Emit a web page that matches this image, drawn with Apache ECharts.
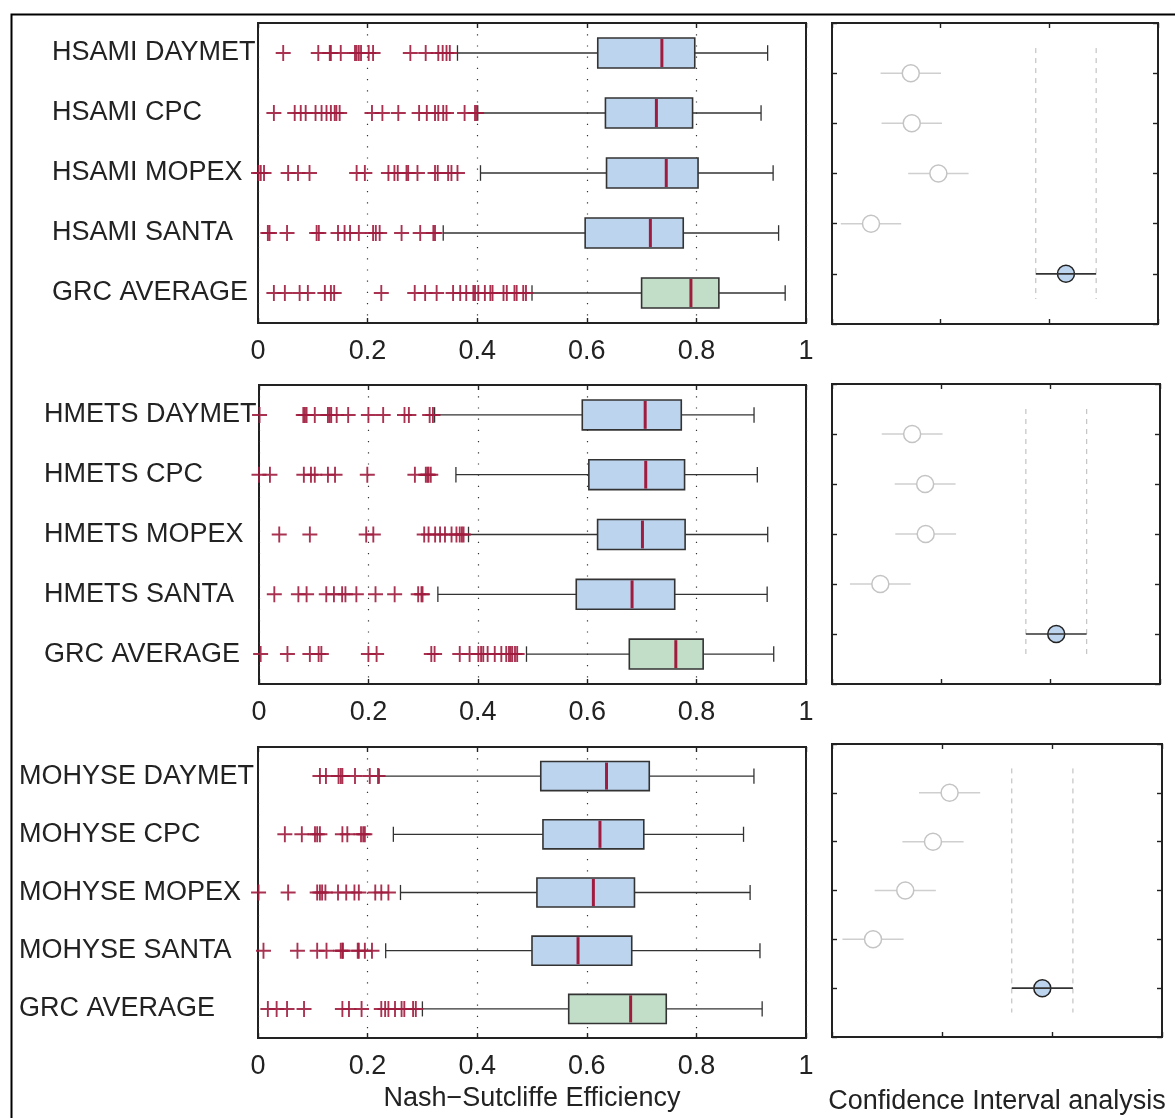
<!DOCTYPE html>
<html>
<head>
<meta charset="utf-8">
<title>Nash–Sutcliffe Efficiency by model and forcing</title>
<script src="https://cdn.jsdelivr.net/npm/echarts@6/dist/echarts.min.js"></script>
<style>
  html, body { margin: 0; padding: 0; background: #fff; }
  #chart { width: 1175px; height: 1118px; }
</style>
</head>
<body>
<div id="chart"></div>
<script>
// ---- Category labels (top to bottom) ----
const hsamiLabels  = ['HSAMI DAYMET', 'HSAMI CPC', 'HSAMI MOPEX', 'HSAMI SANTA', 'GRC AVERAGE'];
const hmetsLabels  = ['HMETS DAYMET', 'HMETS CPC', 'HMETS MOPEX', 'HMETS SANTA', 'GRC AVERAGE'];
const mohyseLabels = ['MOHYSE DAYMET', 'MOHYSE CPC', 'MOHYSE MOPEX', 'MOHYSE SANTA', 'GRC AVERAGE'];

// ---- Box statistics per row: [lower whisker, Q1, median, Q3, upper whisker] ----
const hsamiBox = [
  [0.364, 0.620, 0.737, 0.797, 0.930],
  [0.401, 0.634, 0.727, 0.793, 0.918],
  [0.406, 0.636, 0.745, 0.803, 0.940],
  [0.338, 0.597, 0.716, 0.776, 0.950],
  [0.500, 0.700, 0.790, 0.841, 0.962]
];
const hmetsBox = [
  [0.321, 0.591, 0.706, 0.772, 0.905],
  [0.360, 0.603, 0.707, 0.778, 0.911],
  [0.383, 0.619, 0.701, 0.779, 0.930],
  [0.327, 0.580, 0.682, 0.760, 0.929],
  [0.489, 0.677, 0.762, 0.812, 0.941]
];
const mohyseBox = [
  [0.221, 0.516, 0.636, 0.714, 0.905],
  [0.247, 0.520, 0.624, 0.704, 0.886],
  [0.260, 0.509, 0.612, 0.687, 0.898],
  [0.233, 0.500, 0.584, 0.682, 0.916],
  [0.300, 0.567, 0.680, 0.745, 0.920]
];

// ---- Outlying catchments per row ----
const hsamiOutliers = [
  [0.046, 0.110, 0.131, 0.133, 0.151, 0.177, 0.180, 0.184, 0.188, 0.202, 0.210, 0.278, 0.306, 0.329, 0.337, 0.344, 0.350],
  [0.029, 0.067, 0.078, 0.087, 0.105, 0.116, 0.125, 0.133, 0.140, 0.143, 0.149, 0.208, 0.227, 0.256, 0.294, 0.308, 0.323, 0.329, 0.338, 0.344, 0.377, 0.396, 0.399],
  [0.001, 0.005, 0.011, 0.055, 0.073, 0.094, 0.180, 0.195, 0.238, 0.249, 0.255, 0.271, 0.274, 0.291, 0.323, 0.328, 0.347, 0.353, 0.364],
  [0.018, 0.021, 0.053, 0.107, 0.111, 0.146, 0.158, 0.168, 0.184, 0.210, 0.215, 0.222, 0.262, 0.296, 0.320, 0.323],
  [0.029, 0.049, 0.076, 0.091, 0.122, 0.133, 0.139, 0.225, 0.286, 0.305, 0.326, 0.356, 0.369, 0.380, 0.393, 0.396, 0.402, 0.414, 0.424, 0.428, 0.448, 0.454, 0.468, 0.472, 0.484, 0.489]
];
const hmetsOutliers = [
  [0.001, 0.081, 0.084, 0.087, 0.102, 0.126, 0.129, 0.132, 0.142, 0.163, 0.200, 0.227, 0.266, 0.274, 0.312, 0.318],
  [0.000, 0.020, 0.082, 0.095, 0.102, 0.126, 0.139, 0.198, 0.285, 0.305, 0.308, 0.310, 0.314],
  [0.037, 0.093, 0.196, 0.209, 0.302, 0.310, 0.322, 0.331, 0.340, 0.352, 0.361, 0.367, 0.371, 0.374],
  [0.028, 0.072, 0.087, 0.123, 0.137, 0.152, 0.158, 0.178, 0.213, 0.248, 0.291, 0.297, 0.299],
  [0.003, 0.052, 0.093, 0.109, 0.114, 0.200, 0.215, 0.315, 0.321, 0.367, 0.385, 0.401, 0.406, 0.410, 0.418, 0.431, 0.443, 0.452, 0.457, 0.460, 0.463, 0.468, 0.472]
];
const mohyseOutliers = [
  [0.113, 0.124, 0.147, 0.151, 0.154, 0.177, 0.204, 0.219],
  [0.049, 0.080, 0.104, 0.108, 0.113, 0.154, 0.163, 0.188, 0.192, 0.195],
  [0.001, 0.055, 0.108, 0.113, 0.117, 0.123, 0.146, 0.161, 0.176, 0.184, 0.214, 0.225, 0.238],
  [0.010, 0.072, 0.108, 0.125, 0.151, 0.154, 0.155, 0.182, 0.184, 0.195, 0.208],
  [0.018, 0.034, 0.053, 0.084, 0.154, 0.166, 0.189, 0.225, 0.232, 0.238, 0.250, 0.262, 0.267, 0.283, 0.288]
];

// ---- Confidence interval analysis: interval centres (rows 1..5) and half width ----
const hsamiCiCenter  = [0.725, 0.734, 0.979, 0.359, 2.153];
const hmetsCiCenter  = [0.733, 0.852, 0.857, 0.442, 2.051];
const mohyseCiCenter = [1.069, 0.918, 0.666, 0.373, 1.912];
const ciHalfWidth = 0.278;

// ---- Tick labels of the efficiency axis ----
const effTicks = [0, 0.2, 0.4, 0.6, 0.8, 1];
const effTickLabels = ['0', '0.2', '0.4', '0.6', '0.8', '1'];

const FONT = '"Liberation Sans", Arial, Helvetica, sans-serif';
const TEXT = '#222';
const AXIS = '#222';
const BLUE_FILL = '#bdd4ee';
const GREEN_FILL = '#c2dec8';
const MEDIAN = '#a01c3e';
const OUTLIER = '#a01c3e';
const PLUS = 'path://M7,0h2v7h7v2h-7v7h-2v-7h-7v-2h7z';

const panels = [
  { labels: hsamiLabels,  box: hsamiBox,  outliers: hsamiOutliers,  ci: hsamiCiCenter,  labelMargin: 206,
    grid: { left: 258, top: 23, width: 548, height: 300 }, ciGrid: { left: 832, top: 23, width: 326, height: 301 } },
  { labels: hmetsLabels,  box: hmetsBox,  outliers: hmetsOutliers,  ci: hmetsCiCenter,  labelMargin: 215,
    grid: { left: 259, top: 385, width: 547, height: 299 }, ciGrid: { left: 832, top: 384, width: 328, height: 300 } },
  { labels: mohyseLabels, box: mohyseBox, outliers: mohyseOutliers, ci: mohyseCiCenter, labelMargin: 239,
    grid: { left: 258, top: 747, width: 548, height: 291 }, ciGrid: { left: 832, top: 744, width: 330, height: 293 } }
];

function renderBox(params, api) {
  const cat = api.value(0);
  const pLo = api.coord([api.value(1), cat]);
  const pQ1 = api.coord([api.value(2), cat]);
  const pMed = api.coord([api.value(3), cat]);
  const pQ3 = api.coord([api.value(4), cat]);
  const pHi = api.coord([api.value(5), cat]);
  const band = api.size([0, 1])[1];
  const hb = band * 0.25;
  const hc = band * 0.13;
  const y = pMed[1];
  const isAverage = params.dataIndex === 4;
  const whisker = { stroke: '#333', lineWidth: 1.3 };
  return {
    type: 'group',
    children: [
      { type: 'line', shape: { x1: pLo[0], y1: y, x2: pQ1[0], y2: y }, style: whisker },
      { type: 'line', shape: { x1: pQ3[0], y1: y, x2: pHi[0], y2: y }, style: whisker },
      { type: 'line', shape: { x1: pLo[0], y1: y - hc, x2: pLo[0], y2: y + hc }, style: whisker },
      { type: 'line', shape: { x1: pHi[0], y1: y - hc, x2: pHi[0], y2: y + hc }, style: whisker },
      { type: 'rect', shape: { x: pQ1[0], y: y - hb, width: pQ3[0] - pQ1[0], height: 2 * hb },
        style: { fill: isAverage ? GREEN_FILL : BLUE_FILL, stroke: '#333', lineWidth: 1.6 } },
      { type: 'line', shape: { x1: pMed[0], y1: y - hb + 1, x2: pMed[0], y2: y + hb - 1 },
        style: { stroke: MEDIAN, lineWidth: 3 } }
    ]
  };
}

function makeCiRenderer(halfWidth) {
  return function (params, api) {
    const row = api.value(0);
    const c = api.value(1);
    const pc = api.coord([c, row]);
    const pl = api.coord([c - halfWidth, row]);
    const pr = api.coord([c + halfWidth, row]);
    const r = 8.5;
    const isReference = params.dataIndex === 4;
    if (!isReference) {
      return {
        type: 'group',
        children: [
          { type: 'line', shape: { x1: pl[0], y1: pc[1], x2: pr[0], y2: pc[1] }, style: { stroke: '#cfcfcf', lineWidth: 1.5 } },
          { type: 'circle', shape: { cx: pc[0], cy: pc[1], r: r }, style: { fill: '#fff', stroke: '#c4c4c4', lineWidth: 1.5 } }
        ]
      };
    }
    const top = api.coord([c, 0.5])[1];
    const bottom = api.coord([c, 5.5])[1];
    const dash = { stroke: '#c4c4c4', lineWidth: 1.2, lineDash: [5, 5] };
    return {
      type: 'group',
      children: [
        { type: 'line', shape: { x1: pl[0], y1: top, x2: pl[0], y2: bottom }, style: dash },
        { type: 'line', shape: { x1: pr[0], y1: top, x2: pr[0], y2: bottom }, style: dash },
        { type: 'circle', shape: { cx: pc[0], cy: pc[1], r: r }, style: { fill: BLUE_FILL, stroke: '#222', lineWidth: 1.5 } },
        { type: 'line', shape: { x1: pl[0], y1: pc[1], x2: pr[0], y2: pc[1] }, style: { stroke: '#333', lineWidth: 1.6 } }
      ]
    };
  };
}

// fresh tick settings for every axis (inward ticks like the box frames)
function inwardTicks() {
  return { show: true, inside: true, length: 5, lineStyle: { color: AXIS, width: 1.4 } };
}
function hiddenLine() {
  return { show: false, onZero: false };
}

const grids = [], xAxes = [], yAxes = [], series = [];

panels.forEach((p, i) => {
  const last = i === panels.length - 1;
  // efficiency boxplot grid
  const g = grids.length;
  grids.push(Object.assign({ show: true, borderColor: AXIS, borderWidth: 2, containLabel: false }, p.grid));
  const xBottom = xAxes.length;
  xAxes.push({
    type: 'value', gridIndex: g, min: 0, max: 1, interval: 0.2, position: 'bottom',
    axisLine: hiddenLine(), axisTick: inwardTicks(),
    axisLabel: {
      margin: 15, fontSize: 27, color: TEXT, fontFamily: FONT,
      formatter: v => effTickLabels[effTicks.findIndex(t => Math.abs(t - v) < 1e-6)]
    },
    splitLine: { show: true, lineStyle: { color: '#333', width: 1.2, type: [1.2, 10] } },
    name: last ? 'Nash\u2212Sutcliffe Efficiency' : '',
    nameLocation: 'middle', nameGap: 47,
    nameTextStyle: { fontSize: 27, color: TEXT, fontFamily: FONT }
  });
  xAxes.push({
    type: 'value', gridIndex: g, min: 0, max: 1, interval: 0.2, position: 'top',
    axisLine: hiddenLine(), axisTick: inwardTicks(), axisLabel: { show: false }, splitLine: { show: false }
  });
  const yCat = yAxes.length;
  yAxes.push({
    type: 'category', gridIndex: g, data: p.labels, inverse: true,
    axisLine: hiddenLine(), axisTick: { show: false },
    axisLabel: { interval: 0, align: 'left', margin: p.labelMargin, fontSize: 27, color: TEXT, fontFamily: FONT },
    splitLine: { show: false }
  });
  series.push({
    type: 'custom', xAxisIndex: xBottom, yAxisIndex: yCat, renderItem: renderBox, z: 3,
    encode: { x: [1, 2, 3, 4, 5], y: 0 },
    data: p.box.map((s, r) => [r].concat(s))
  });
  const pts = [];
  p.outliers.forEach((row, r) => row.forEach(v => pts.push([v, r])));
  series.push({
    type: 'scatter', xAxisIndex: xBottom, yAxisIndex: yCat, clip: false, z: 4,
    symbol: PLUS, symbolSize: [15, 16],
    itemStyle: { color: OUTLIER, opacity: 0.9 },
    data: pts
  });

  // confidence interval grid
  const cg = grids.length;
  grids.push(Object.assign({ show: true, borderColor: AXIS, borderWidth: 2, containLabel: false }, p.ciGrid));
  const cx = xAxes.length;
  xAxes.push({
    type: 'value', gridIndex: cg, min: 0, max: 3, interval: 1, position: 'bottom',
    axisLine: hiddenLine(), axisTick: inwardTicks(), axisLabel: { show: false }, splitLine: { show: false },
    name: last ? 'Confidence Interval analysis' : '',
    nameLocation: 'middle', nameGap: 51,
    nameTextStyle: { fontSize: 27, color: TEXT, fontFamily: FONT }
  });
  xAxes.push({
    type: 'value', gridIndex: cg, min: 0, max: 3, interval: 1, position: 'top',
    axisLine: hiddenLine(), axisTick: inwardTicks(), axisLabel: { show: false }, splitLine: { show: false }
  });
  const cy = yAxes.length;
  yAxes.push({
    type: 'value', gridIndex: cg, min: 0, max: 6, interval: 1, inverse: true, position: 'left',
    axisLine: hiddenLine(), axisTick: inwardTicks(), axisLabel: { show: false }, splitLine: { show: false }
  });
  yAxes.push({
    type: 'value', gridIndex: cg, min: 0, max: 6, interval: 1, inverse: true, position: 'right',
    axisLine: hiddenLine(), axisTick: inwardTicks(), axisLabel: { show: false }, splitLine: { show: false }
  });
  series.push({
    type: 'custom', xAxisIndex: cx, yAxisIndex: cy, renderItem: makeCiRenderer(ciHalfWidth), z: 3,
    encode: { x: 1, y: 0 },
    data: p.ci.map((c, r) => [r + 1, c])
  });
});

const chart = echarts.init(document.getElementById('chart'), null, { renderer: 'canvas' });
chart.setOption({
  animation: false,
  backgroundColor: '#ffffff',
  textStyle: { fontFamily: FONT },
  grid: grids,
  xAxis: xAxes,
  yAxis: yAxes,
  series: series,
  graphic: [{
    type: 'rect', left: 9, top: 12, silent: true, z: 100,
    shape: { x: 0, y: 0, width: 1300, height: 1300 },
    style: { fill: 'none', stroke: '#000', lineWidth: 2 }
  }]
});
</script>
</body>
</html>
